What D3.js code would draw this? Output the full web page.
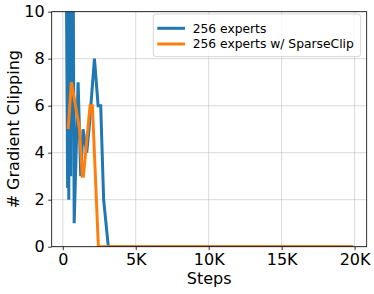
<!DOCTYPE html>
<html><head><meta charset="utf-8">
<script src="https://cdn.jsdelivr.net/npm/d3@7"></script>
<style>body{margin:0;background:#fff;} svg{display:block;font-family:"DejaVu Sans",sans-serif;}</style>
</head><body>
<script>
const blueSteps = [220, 330, 380, 410, 470, 540, 600, 700, 780, 1050, 1230, 1390, 1640, 1800, 2170, 2420, 2600, 2800, 3120, 19900];
const blueValues = [14, 2.5, 14, 2, 14, 3, 14, 14, 1, 7, 3, 5, 4, 5, 8, 6, 6, 2, 0, 0];
const orangeSteps = [370, 590, 1150, 1340, 1410, 1870, 2030, 2440, 19900];
const orangeValues = [5, 7, 5, 3, 3, 6, 6, 0, 0];
const seriesNames = ["256 experts", "256 experts w/ SparseClip"];
const seriesColors = ["#1f77b4", "#ff7f0e"];
const xTicks = [0, 5000, 10000, 15000, 20000];
const xTickLabels = ["0", "5K", "10K", "15K", "20K"];
const yTicks = [0, 2, 4, 6, 8, 10];

const W = 374, H = 294;
const L = 51.7, R = 366.7, T = 11.7, B = 246.7;
const svg = d3.select("body").append("svg").attr("width", W).attr("height", H);
const x = d3.scaleLinear().domain([-760, 20830]).range([L, R]);
const y = d3.scaleLinear().domain([0, 10]).range([B, T]);

svg.append("defs").append("clipPath").attr("id", "clip")
  .append("rect").attr("x", L).attr("y", T).attr("width", R - L).attr("height", B - T);

// grid
svg.append("g").selectAll("line").data(xTicks).join("line")
  .attr("x1", d => x(d)).attr("x2", d => x(d)).attr("y1", T).attr("y2", B)
  .attr("stroke", "#b0b0b0").attr("stroke-opacity", 0.6).attr("stroke-width", 0.8);
svg.append("g").selectAll("line").data(yTicks).join("line")
  .attr("y1", d => y(d)).attr("y2", d => y(d)).attr("x1", L).attr("x2", R)
  .attr("stroke", "#b0b0b0").attr("stroke-opacity", 0.6).attr("stroke-width", 0.8);

// lines
const series = [
  blueSteps.map((s, i) => [s, blueValues[i]]),
  orangeSteps.map((s, i) => [s, orangeValues[i]])
];
const line = d3.line().x(d => x(d[0])).y(d => y(d[1]));
const lg = svg.append("g").attr("clip-path", "url(#clip)");
series.forEach((s, i) => {
  lg.append("path").datum(s).attr("d", line).attr("fill", "none")
    .attr("stroke", seriesColors[i]).attr("stroke-width", 3)
    .attr("stroke-linejoin", "miter").attr("stroke-linecap", "butt");
});

// axes
const xAxis = d3.axisBottom(x).tickValues(xTicks).tickFormat((d, i) => xTickLabels[i]).tickSize(3.5).tickPadding(3.5);
const yAxis = d3.axisLeft(y).tickValues(yTicks).tickFormat(d3.format("d")).tickSize(3.5).tickPadding(3.5);
const gx = svg.append("g").attr("transform", `translate(0,${B})`).call(xAxis);
const gy = svg.append("g").attr("transform", `translate(${L},0)`).call(yAxis);
[gx, gy].forEach(g => {
  g.select(".domain").remove();
  g.selectAll("text").attr("font-size", 16).attr("fill", "#000").attr("font-family", "DejaVu Sans");
  g.selectAll("line").attr("stroke", "#000").attr("stroke-width", 0.8);
});
// spines
svg.append("rect").attr("x", L).attr("y", T).attr("width", R - L).attr("height", B - T)
  .attr("fill", "none").attr("stroke", "#000").attr("stroke-width", 0.8);

// labels
svg.append("text").attr("x", (L + R) / 2).attr("y", 283.5).attr("text-anchor", "middle")
  .attr("font-size", 16).text("Steps");
svg.append("text").attr("transform", `translate(19,${(T + B) / 2}) rotate(-90)`)
  .attr("text-anchor", "middle").attr("font-size", 16).text("# Gradient Clipping");

// legend
const leg = svg.append("g");
leg.append("rect").attr("x", 153.3).attr("y", 14).attr("width", 207.4).attr("height", 42.7)
  .attr("rx", 3).attr("fill", "#fff").attr("fill-opacity", 0.8)
  .attr("stroke", "#cccccc").attr("stroke-width", 0.8);
const rows = [28.3, 44];
seriesNames.forEach((n, i) => {
  leg.append("line").attr("x1", 157.3).attr("x2", 185).attr("y1", rows[i]).attr("y2", rows[i])
    .attr("stroke", seriesColors[i]).attr("stroke-width", 3);
  leg.append("text").attr("x", 192.7).attr("y", rows[i] + 4.4).attr("font-size", 12.3).text(n);
});
</script>
</body></html>
